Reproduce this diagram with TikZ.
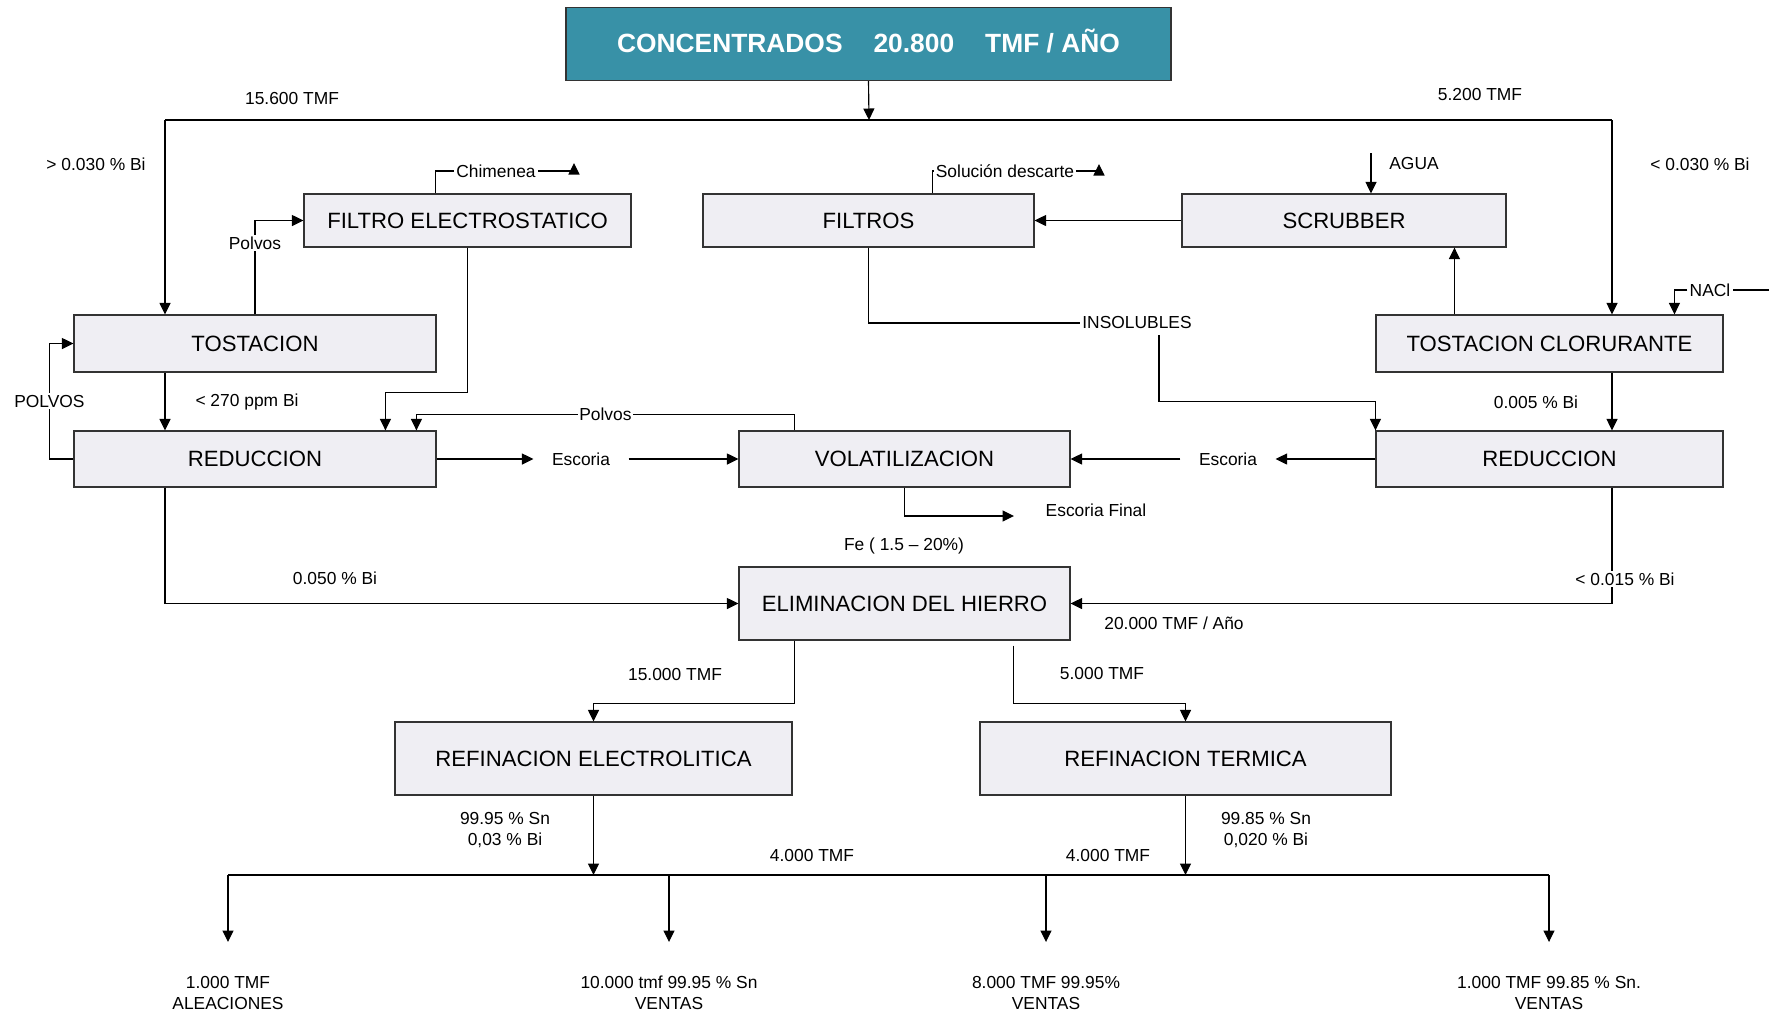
\documentclass[tikz,border=0pt]{standalone}
\usepackage{fontspec}
\setmainfont{Liberation Sans}
\usetikzlibrary{arrows.meta,calc}
\definecolor{tealbox}{RGB}{56,145,167}
\definecolor{procfill}{RGB}{239,238,243}

\begin{document}
\begin{tikzpicture}[x=0.2mm,y=-0.2mm,line width=0.65pt,
    >={Triangle[length=2.3mm,width=2.2mm]},
    proc/.style 2 args={draw=black!80,fill=procfill,inner sep=0pt,
      minimum width=#1*0.2mm,minimum height=#2*0.2mm,font=\fontsize{12.6}{15}\selectfont},
    lbl/.style={inner sep=1pt,font=\fontsize{9.9}{12}\selectfont},
    cut/.style={lbl,fill=white},
    esc/.style={lbl,inner xsep=3.6mm},
    outp/.style={lbl,align=center}]
      \useasboundingbox (0,0) rectangle (1785,1014);

      \node[proc={605}{73},fill=tealbox,text=white,text depth=1.2mm,font=\fontsize{15}{18}\selectfont\bfseries] (conc) at (868.5,44)
        {CONCENTRADOS\hspace{6.2mm}20.800\hspace{6.2mm}TMF / AÑO};
      \node[proc={327}{53}] (fe) at (467.5,220.5) {FILTRO ELECTROSTATICO};
      \node[proc={331}{53}] (filtros) at (868.5,220.5) {FILTROS};
      \node[proc={324}{53}] (scrub) at (1344,220.5) {SCRUBBER};
      \node[proc={362}{57}] (tost) at (255,343.5) {TOSTACION};
      \node[proc={347}{57}] (tclor) at (1549.5,343.5) {TOSTACION CLORURANTE};
      \node[proc={362}{56}] (redL) at (255,459) {REDUCCION};
      \node[proc={331}{56}] (vol) at (904.5,459) {VOLATILIZACION};
      \node[proc={347}{56}] (redR) at (1549.5,459) {REDUCCION};
      \node[proc={331}{73}] (elim) at (904.5,603.5) {ELIMINACION DEL HIERRO};
      \node[proc={397}{73}] (refE) at (593.5,758.5) {REFINACION ELECTROLITICA};
      \node[proc={411}{73}] (refT) at (1185.5,758.5) {REFINACION TERMICA};

      \coordinate (split) at (869,120);
      \coordinate (tl) at (165,120);
      \coordinate (tr) at (1612,120);
      \coordinate (agua) at (1371,153);
      \coordinate (chimtip) at (574,163);
      \coordinate (soltip) at (1099,164);
      \coordinate (naclin) at (1769,290);
      \coordinate (efin) at (1014,516);
      \coordinate (bl) at (228,875);
      \coordinate (br) at (1549,875);

      \node[lbl] (t156) at (292,99) {15.600 TMF};
      \node[lbl] (t52) at (1480,95) {5.200 TMF};
      \node[lbl] (bi1) at (96,164) {> 0.030 \% Bi};
      \node[lbl] (bi2) at (1700,164) {< 0.030 \% Bi};
      \node[lbl] (aguatxt) at (1414,164) {AGUA};
      \node[lbl] (chim) at (496,171) {Chimenea};
      \node[lbl] (sol) at (1005,171) {Solución descarte};
      \node[lbl] (nacl) at (1710,290) {NACl};
      \node[lbl] (ins) at (1137,323) {INSOLUBLES};
      \node[lbl] (ppm) at (247,402) {< 270 ppm Bi};
      \node[lbl] (bi3) at (1536,402) {0.005 \% Bi};
      \node[esc] (escL) at (581,459) {Escoria};
      \node[esc] (escR) at (1228,459) {Escoria};
      \node[lbl] (escF) at (1096,510) {Escoria Final};
      \node[lbl] (fe20) at (904,546) {Fe ( 1.5 – 20\%)};
      \node[lbl] (bi5) at (335,578) {0.050 \% Bi};
      \node[lbl] (t20) at (1174,623) {20.000 TMF / Año};
      \node[lbl] (t15) at (675,674) {15.000 TMF};
      \node[lbl] (t5) at (1102,673) {5.000 TMF};
      \node[outp] (snE) at (505,830) {99.95 \% Sn\\0,03 \% Bi};
      \node[outp] (snT) at (1266,830) {99.85 \% Sn\\0,020 \% Bi};
      \node[lbl] (t4a) at (812,855) {4.000 TMF};
      \node[lbl] (t4b) at (1108,855) {4.000 TMF};
      \node[outp] (out1) at (228,993) {1.000 TMF\\ALEACIONES};
      \node[outp] (out2) at (669,993) {10.000 tmf 99.95 \% Sn\\VENTAS};
      \node[outp] (out3) at (1046,993) {8.000 TMF 99.95\%\\VENTAS};
      \node[outp] (out4) at (1549,993) {1.000 TMF 99.85 \% Sn.\\VENTAS};

      \draw[->] (conc.south) -- (split);
      \draw (tl) -- (tr);
      \draw[->] (tl) -- (tl |- tost.north);
      \draw[->] (tr) -- (tr |- tclor.north);

      \draw[->] (tost.north) |- node[cut,pos=0.38] (pv1) {Polvos} (fe.west);
      \draw ($(fe.north west)+(132,0)$) |- (chim.west);
      \draw[->] (chim.east) -| (chimtip);
      \draw[->] (fe.south) -- ++(0,145) -| ($(redL.north west)+(312,0)$);
      \draw[->] (tost.south -| tl) -- (redL.north -| tl);
      \draw[->] (redL.west) -- ++(-24,0) |- node[cut,pos=0.25] (pvL) {POLVOS} (tost.west);
      \draw[->] ($(vol.north west)+(56,0)$) -- ++(0,-16) -| node[cut,pos=0.25] (pv2) {Polvos} ($(redL.north west)+(343,0)$);
      \draw[->] (redL.east) -- (escL.west);
      \draw[->] (escL.east) -- (vol.west);
      \draw[->] (vol.south) |- (efin);
      \draw[->] (redL.south -| tl) |- (elim.west);

      \draw[->] (agua) -- (agua |- scrub.north);
      \draw[->] (scrub.west) -- (filtros.east);
      \draw ($(filtros.north west)+(230,0)$) |- (sol.west);
      \draw[->] (sol.east) -| (soltip);
      \draw[->] ($(tclor.north west)+(79,0)$) -- ($(scrub.south west)+(273,0)$);
      \draw (naclin) -- (nacl.east);
      \draw[->] (nacl.west) -| ($(tclor.north west)+(299,0)$);
      \draw (filtros.south) |- (ins.west);
      \draw[->] ($(ins.south)+(22,4)$) -- ++(0,66) -| (redR.north west);
      \draw[->] (tclor.south -| tr) -- (redR.north -| tr);
      \draw[->] (redR.west) -- (escR.east);
      \draw[->] (escR.west) -- (vol.east);
      \draw[->] (redR.south -| tr) |- node[cut,pos=0.395,xshift=2.6mm] (bi4) {< 0.015 \% Bi} (elim.east);

      \draw[->] ($(elim.south west)+(56,0)$) -- ++(0,63) -| (refE.north);
      \draw[->] ($(elim.south west)+(275,5)$) -- ++(0,58) -| (refT.north);
      \draw[->] (refE.south) -- (refE.south |- bl);
      \draw[->] (refT.south) -- (refT.south |- bl);
      \draw (bl) -- (br);
      \draw[->] (bl) -- ++(0,67);
      \draw[->] (out2 |- bl) -- ++(0,67);
      \draw[->] (out3 |- bl) -- ++(0,67);
      \draw[->] (br) -- ++(0,67);
\end{tikzpicture}
\end{document}
